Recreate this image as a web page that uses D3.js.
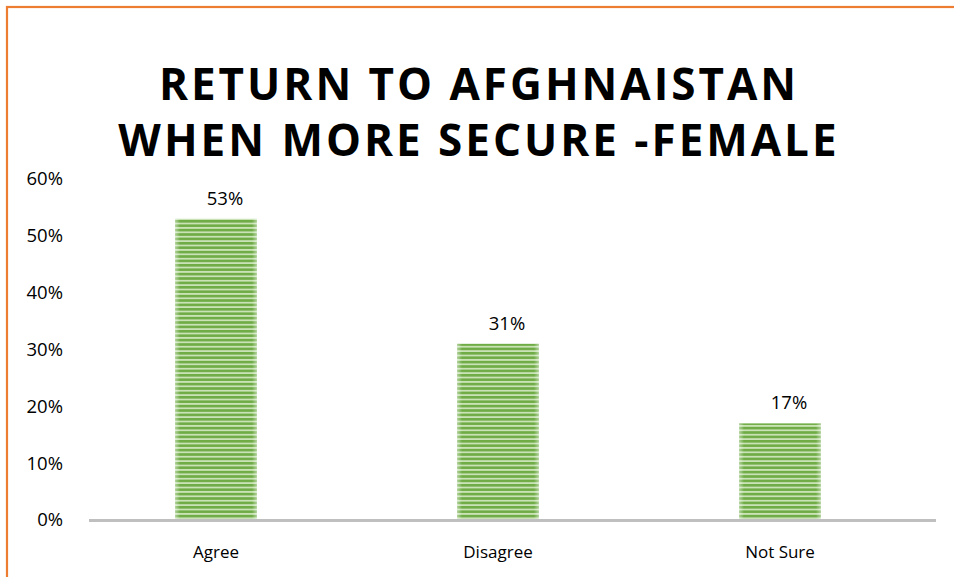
<!DOCTYPE html>
<html>
<head>
<meta charset="utf-8">
<script src="https://cdn.jsdelivr.net/npm/d3@7"></script>
<style>
  html, body { margin: 0; padding: 0; background: #fff; }
  svg { display: block; }
</style>
</head>
<body>
<svg id="chart" width="954" height="577"></svg>
<script>
// Survey responses (share of female respondents)
const categories = ["Agree", "Disagree", "Not Sure"];
const values = [0.53, 0.31, 0.17];
const yTicks = [0, 0.1, 0.2, 0.3, 0.4, 0.5, 0.6];
const titleLines = ["RETURN TO AFGHNAISTAN", "WHEN MORE SECURE -FEMALE"];

const W = 954, H = 577;
const svg = d3.select("#chart");
const font = "'Open Sans', 'Liberation Sans', sans-serif";

// Outer frame (orange), running off the right and bottom edges
svg.append("rect")
  .attr("x", 7).attr("y", 7)
  .attr("width", W + 20).attr("height", H + 20)
  .attr("fill", "#fff")
  .attr("stroke", "#ed7d31").attr("stroke-width", 2.2);

// Striped fill for the bars
const defs = svg.append("defs");
const pat = defs.append("pattern")
  .attr("id", "stripes")
  .attr("patternUnits", "userSpaceOnUse")
  .attr("width", 8).attr("height", 4.4);
pat.append("rect").attr("width", 8).attr("height", 4.4).attr("fill", "#c9e3b6");
pat.append("rect").attr("width", 8).attr("height", 2.6).attr("fill", "#6fac46");

const edge = defs.append("linearGradient").attr("id", "edge")
  .attr("x1", 0).attr("x2", 1).attr("y1", 0).attr("y2", 0);
edge.append("stop").attr("offset", 0).attr("stop-color", "#fff").attr("stop-opacity", 0.45);
edge.append("stop").attr("offset", 0.06).attr("stop-color", "#fff").attr("stop-opacity", 0);
edge.append("stop").attr("offset", 0.94).attr("stop-color", "#fff").attr("stop-opacity", 0);
edge.append("stop").attr("offset", 1).attr("stop-color", "#fff").attr("stop-opacity", 0.45);

// Title
const title = svg.append("text")
  .attr("text-anchor", "middle")
  .attr("font-family", font)
  .attr("font-weight", 700)
  .attr("font-size", 44)
  .attr("letter-spacing", 3)
  .attr("fill", "#000");
titleLines.forEach((t, i) => {
  title.append("tspan").attr("x", 479).attr("y", 100 + i * 56).text(t);
});

// Scales
const plotLeft = 89, plotRight = 936;
const y = d3.scaleLinear().domain([0, 0.6]).range([520, 179]);
const x = d3.scaleBand().domain(categories).range([75, 921]).paddingInner(0.71).paddingOuter(0.355);

// Y axis labels (no line, no ticks)
const yAxis = d3.axisLeft(y)
  .tickValues(yTicks)
  .tickFormat(d3.format(".0%"))
  .tickSize(0).tickPadding(0);
const gy = svg.append("g").attr("transform", "translate(63,0)").call(yAxis);
gy.select(".domain").remove();
gy.selectAll("text")
  .attr("font-family", font).attr("font-size", 18.5).attr("fill", "#000");

// Bars
const bars = svg.append("g");
bars.selectAll("rect.bar")
  .data(values)
  .join("rect")
  .attr("class", "bar")
  .attr("x", (d, i) => x(categories[i]))
  .attr("y", d => y(d))
  .attr("width", x.bandwidth())
  .attr("height", d => y(0) - y(d))
  .attr("fill", "url(#stripes)");
bars.selectAll("rect.edge")
  .data(values)
  .join("rect")
  .attr("class", "edge")
  .attr("x", (d, i) => x(categories[i]))
  .attr("y", d => y(d))
  .attr("width", x.bandwidth())
  .attr("height", d => y(0) - y(d))
  .attr("fill", "url(#edge)");

// Value labels, set slightly right of the bar centre
svg.append("g").selectAll("text")
  .data(values)
  .join("text")
  .attr("x", (d, i) => x(categories[i]) + x.bandwidth() / 2 + 9)
  .attr("y", d => y(d) - 14)
  .attr("text-anchor", "middle")
  .attr("font-family", font).attr("font-size", 18.5).attr("fill", "#000")
  .text(d => d3.format(".0%")(d));

// X axis line and category labels
svg.append("line")
  .attr("x1", plotLeft).attr("x2", plotRight)
  .attr("y1", y(0) + 0.5).attr("y2", y(0) + 0.5)
  .attr("stroke", "#bfbfbf").attr("stroke-width", 3);

const xAxis = d3.axisBottom(x).tickSize(0).tickPadding(0);
const gx = svg.append("g").attr("transform", `translate(0,${y(0) + 26})`).call(xAxis);
gx.select(".domain").remove();
gx.selectAll("text")
  .attr("dy", "0.71em")
  .attr("font-family", font).attr("font-size", 17).attr("fill", "#000");
</script>
</body>
</html>
